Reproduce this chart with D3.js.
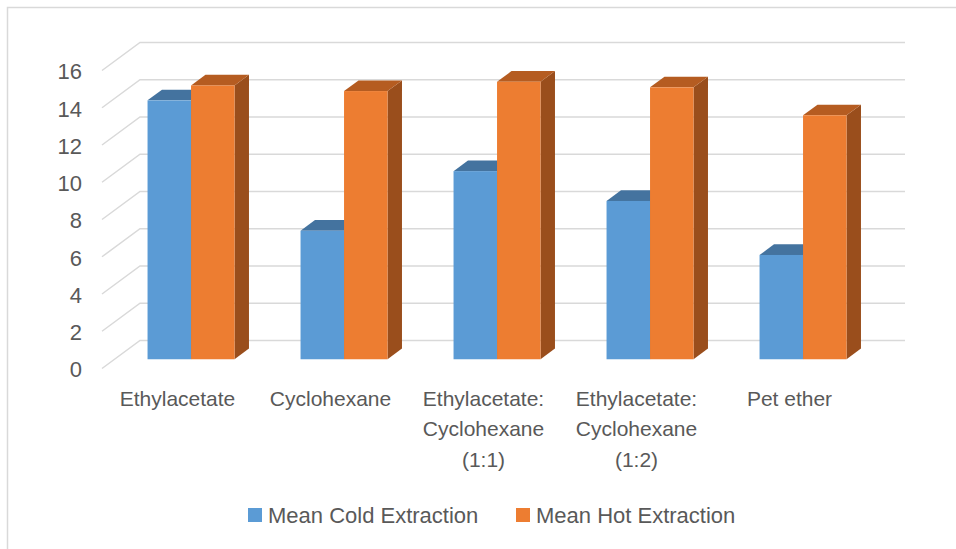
<!DOCTYPE html>
<html>
<head>
<meta charset="utf-8">
<script src="https://cdn.jsdelivr.net/npm/d3@7"></script>
<style>
  html, body { margin: 0; padding: 0; background: #ffffff; }
  svg { display: block; }
  text { font-family: "Liberation Sans", Arial, sans-serif; fill: #595959; }
</style>
</head>
<body>
<svg id="chart" width="956" height="549"></svg>
<script>
// Extraction yield by solvent system
const categories = [
  "Ethylacetate",
  "Cyclohexane",
  "Ethylacetate: Cyclohexane (1:1)",
  "Ethylacetate: Cyclohexane (1:2)",
  "Pet ether"
];
const seriesNames = ["Mean Cold Extraction", "Mean Hot Extraction"];
const coldValues = [13.9, 6.9, 10.1, 8.5, 5.6];
const hotValues = [14.7, 14.4, 14.9, 14.6, 13.1];
const yTicks = [0, 2, 4, 6, 8, 10, 12, 14, 16];

const palette = {
  cold: { front: "#5B9BD5", top: "#44739F", side: "#3A6690" },
  hot:  { front: "#ED7D31", top: "#B55C21", side: "#9A4E1C" }
};

const svg = d3.select("#chart");

// Outer frame
svg.append("rect")
  .attr("x", 7.5).attr("y", 7.5)
  .attr("width", 960).attr("height", 560)
  .attr("fill", "none").attr("stroke", "#d9d9d9").attr("stroke-width", 1.5);

// Oblique 3D projection: back wall plane plus a depth vector toward the viewer
const depth = { dx: -38, dy: 28 };
const backLeft = 140, backRight = 905;

const x = d3.scaleBand().domain(categories).range([backLeft, backRight]);
const y = d3.scaleLinear().domain([0, 16]).range([340.5, 42.5]);

// point at depth t (0 = back wall, 1 = front edge)
const proj = (px, py, t) => [px + depth.dx * t, py + depth.dy * t];

// Gridlines: back wall horizontals and left wall diagonals
const grid = svg.append("g").attr("stroke", "#d9d9d9").attr("stroke-width", 1.5).attr("fill", "none");
yTicks.forEach(v => {
  const yy = y(v);
  const f = proj(backLeft, yy, 1);
  grid.append("path").attr("d", `M${f[0]},${f[1]}L${backLeft},${yy}L${backRight},${yy}`);
});

// Value axis labels on the front edge
svg.append("g").selectAll("text").data(yTicks).join("text")
  .attr("x", backLeft + depth.dx - 20)
  .attr("y", d => y(d) + depth.dy + 1)
  .attr("dy", "0.36em")
  .attr("text-anchor", "end")
  .attr("font-size", 22)
  .text(d => d);

// Bars: front face at depth tFront, rear at tBack
const tFront = 0.67, tBack = 0.29;
const barDx = (tFront - tBack) * -depth.dx;   // offset from front to rear face
const barDy = (tFront - tBack) * -depth.dy;
const pairWidth = 87;

const rows = categories.map((c, i) => ({ cat: c, cold: coldValues[i], hot: hotValues[i] }));

const inner = d3.scaleBand().domain(["cold", "hot"]).range([0, pairWidth]);

const bars = svg.append("g");
rows.forEach(r => {
  const cx = x(r.cat) + x.bandwidth() / 2 + depth.dx * tFront;
  const base = y(0) + depth.dy * tFront;
  ["cold", "hot"].forEach(key => {
    const v = r[key];
    const x0 = cx - pairWidth / 2 + inner(key);
    const x1 = x0 + inner.bandwidth();
    const top = y(v) + depth.dy * tFront;
    const col = palette[key];
    // right side face
    bars.append("path")
      .attr("d", `M${x1},${top}L${x1 + barDx},${top + barDy}L${x1 + barDx},${base + barDy}L${x1},${base}Z`)
      .attr("fill", col.side);
    // top face
    bars.append("path")
      .attr("d", `M${x0},${top}L${x1},${top}L${x1 + barDx},${top + barDy}L${x0 + barDx},${top + barDy}Z`)
      .attr("fill", col.top);
    // front face
    bars.append("rect")
      .attr("x", x0).attr("y", top)
      .attr("width", x1 - x0).attr("height", base - top)
      .attr("fill", col.front);
  });
});

// Category labels, wrapped to the category width
const labelG = svg.append("g");
categories.forEach(c => {
  const cx = x(c) + x.bandwidth() / 2 + depth.dx - 1;
  const t = labelG.append("text")
    .attr("x", cx).attr("y", 405.5)
    .attr("text-anchor", "middle")
    .attr("font-size", 21);
  const words = c.split(" ");
  let line = [];
  let lineNo = 0;
  let tspan = t.append("tspan").attr("x", cx).attr("y", 405.5);
  words.forEach(w => {
    line.push(w);
    tspan.text(line.join(" "));
    if (tspan.node().getComputedTextLength() > 140 && line.length > 1) {
      line.pop();
      tspan.text(line.join(" "));
      line = [w];
      lineNo += 1;
      tspan = t.append("tspan").attr("x", cx).attr("y", 405.5 + lineNo * 30.5).text(w);
    }
  });
});

// Legend
const legendItems = [
  { name: seriesNames[0], color: palette.cold.front, x: 248 },
  { name: seriesNames[1], color: palette.hot.front, x: 516 }
];
const legend = svg.append("g");
legendItems.forEach(d => {
  legend.append("rect").attr("x", d.x).attr("y", 508).attr("width", 14).attr("height", 14).attr("fill", d.color);
  legend.append("text").attr("x", d.x + 20).attr("y", 523).attr("font-size", 22).text(d.name);
});
</script>
</body>
</html>
